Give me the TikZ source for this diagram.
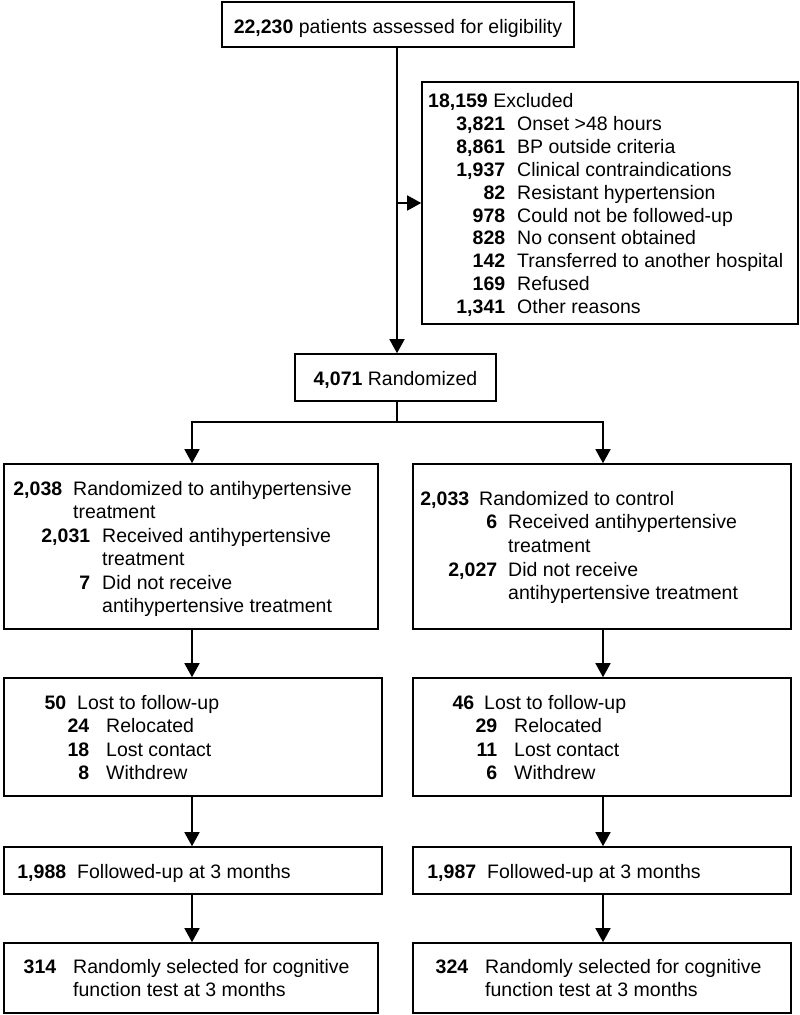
\documentclass[tikz,border=0pt]{standalone}
\usepackage{fontspec}
\setmainfont{Liberation Sans}
\usetikzlibrary{arrows.meta}
\newcommand{\nrow}[4]{\makebox[#1pt][r]{\bfseries #3}\hspace{#2pt}#4}
\newcommand{\crow}[2]{\hspace{#1pt}#2}
\begin{document}
\begin{tikzpicture}[x=1pt,y=-1pt,
  box/.style={draw, line width=1.6pt, inner sep=0pt, minimum width=#1},
  txt/.style={anchor=base west, inner sep=0pt},
  ctxt/.style={anchor=base, inner sep=0pt},
  arr/.style={line width=1.6pt, -{Triangle[length=14pt,width=15pt]}},
  ln/.style={line width=1.6pt},
  every node/.style={font=\fontsize{19.5}{23.5}\selectfont}]
\useasboundingbox (0,0) rectangle (800,1015);
\fill[white] (0,0) rectangle (800,1015);
% boxes
\node[box=352pt, minimum height=45pt] (top) at (398,24.5) {};
\node[box=376pt, minimum height=242pt] (excl) at (610,203) {};
\node[box=201pt, minimum height=47pt] (rand) at (395.5,377.5) {};
\node[box=374pt, minimum height=165pt] (tl) at (191,546.5) {};
\node[box=378pt, minimum height=165pt] (tr) at (602,546.5) {};
\node[box=378pt, minimum height=118pt] (ll) at (193,737) {};
\node[box=378pt, minimum height=118pt] (lr) at (602,737) {};
\node[box=378pt, minimum height=47pt] (fl) at (193,870.5) {};
\node[box=378pt, minimum height=47pt] (fr) at (602,870.5) {};
\node[box=374pt, minimum height=70pt] (sl) at (191,978) {};
\node[box=378pt, minimum height=70pt] (sr) at (602,978) {};
% texts
\node[ctxt] (ttop) at (398,33) {\textbf{22,230} patients assessed for eligibility};
\node[txt] (texcl) at (428,107.5) {\fontsize{19.5}{22.9}\selectfont\begin{tabular}[t]{@{}l@{}}
\textbf{18,159} Excluded\\
\nrow{77}{12}{3,821}{Onset >48 hours}\\
\nrow{77}{12}{8,861}{BP outside criteria}\\
\nrow{77}{12}{1,937}{Clinical contraindications}\\
\nrow{77}{12}{82}{Resistant hypertension}\\
\nrow{77}{12}{978}{Could not be followed-up}\\
\nrow{77}{12}{828}{No consent obtained}\\
\nrow{77}{12}{142}{Transferred to another hospital}\\
\nrow{77}{12}{169}{Refused}\\
\nrow{77}{12}{1,341}{Other reasons}
\end{tabular}};
\node[ctxt] (trand) at (395.5,385) {\textbf{4,071} Randomized};
\node[txt] (ttl) at (13,495) {\begin{tabular}[t]{@{}l@{}}
\nrow{49}{11}{2,038}{Randomized to antihypertensive}\\
\crow{60}{treatment}\\
\nrow{77}{12}{2,031}{Received antihypertensive}\\
\crow{89}{treatment}\\
\nrow{77}{12}{7}{Did not receive}\\
\crow{89}{antihypertensive treatment}
\end{tabular}};
\node[txt] (ttr) at (421,505) {\fontsize{19.5}{23.7}\selectfont\begin{tabular}[t]{@{}l@{}}
\nrow{48}{10}{2,033}{Randomized to control}\\
\nrow{76}{11}{6}{Received antihypertensive}\\
\crow{87}{treatment}\\
\nrow{76}{11}{2,027}{Did not receive}\\
\crow{87}{antihypertensive treatment}
\end{tabular}};
\node[txt] (tll) at (45,709) {\fontsize{19.5}{23.6}\selectfont\begin{tabular}[t]{@{}l@{}}
\nrow{21}{11}{50}{Lost to follow-up}\\
\nrow{44}{17}{24}{Relocated}\\
\nrow{44}{17}{18}{Lost contact}\\
\nrow{44}{17}{8}{Withdrew}
\end{tabular}};
\node[txt] (tlr) at (453,709) {\fontsize{19.5}{23.6}\selectfont\begin{tabular}[t]{@{}l@{}}
\nrow{21}{10}{46}{Lost to follow-up}\\
\nrow{44}{17}{29}{Relocated}\\
\nrow{44}{17}{11}{Lost contact}\\
\nrow{44}{17}{6}{Withdrew}
\end{tabular}};
\node[txt] (tfl) at (17,878) {\nrow{49}{11}{1,988}{Followed-up at 3 months}};
\node[txt] (tfr) at (427,878) {\nrow{49}{11}{1,987}{Followed-up at 3 months}};
\node[txt] (tsl) at (25,973.5) {\fontsize{19.5}{23.4}\selectfont\begin{tabular}[t]{@{}l@{}}
\nrow{31}{17}{314}{Randomly selected for cognitive}\\
\crow{48}{function test at 3 months}
\end{tabular}};
\node[txt] (tsr) at (437,973.5) {\fontsize{19.5}{23.4}\selectfont\begin{tabular}[t]{@{}l@{}}
\nrow{31}{17}{324}{Randomly selected for cognitive}\\
\crow{48}{function test at 3 months}
\end{tabular}};
% connectors
\coordinate (stem) at (397,0);
\coordinate (split) at (0,422);
\coordinate (colL) at (192,0);
\coordinate (colR) at (603,0);
\draw[arr] (top.south -| stem) -- (rand.north -| stem);
\draw[arr] (stem |- excl.west) -- (excl.west);
\draw[ln] (rand.south -| stem) -- (stem |- split);
\draw[arr] (stem |- split) -| (tl.north -| colL);
\draw[arr] (stem |- split) -| (tr.north -| colR);
\draw[arr] (tl.south -| colL) -- (ll.north -| colL);
\draw[arr] (tr.south -| colR) -- (lr.north -| colR);
\draw[arr] (ll.south -| colL) -- (fl.north -| colL);
\draw[arr] (lr.south -| colR) -- (fr.north -| colR);
\draw[arr] (fl.south -| colL) -- (sl.north -| colL);
\draw[arr] (fr.south -| colR) -- (sr.north -| colR);
\end{tikzpicture}
\end{document}
